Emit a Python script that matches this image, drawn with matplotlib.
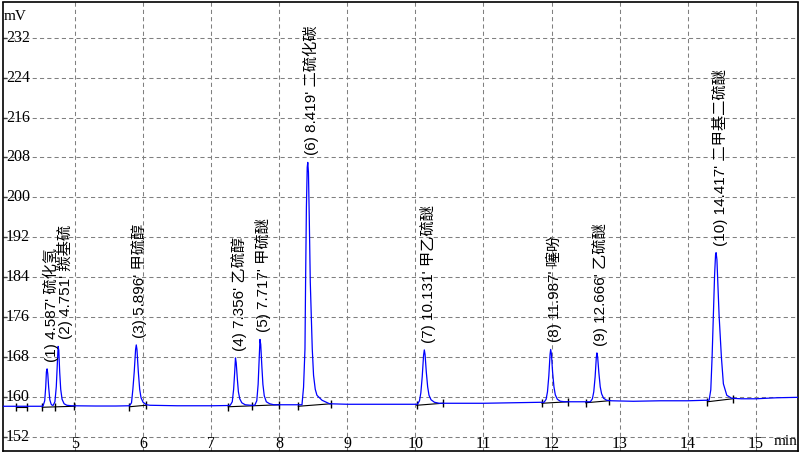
import numpy as np
import matplotlib
matplotlib.use("Agg")
from matplotlib import pyplot as plt

# chromatogram trace (min, mV)
trace_t = [3.93, 4.30, 4.50,
           4.53, 4.555, 4.57, 4.58, 4.59, 4.60, 4.613, 4.63, 4.65, 4.665,
           4.68, 4.705, 4.725, 4.74, 4.752, 4.762, 4.775, 4.79, 4.81, 4.84, 4.88, 4.95,
           5.30, 5.60,
           5.80, 5.83, 5.85, 5.87, 5.89, 5.90, 5.91, 5.93, 5.95, 5.97, 6.00, 6.05, 6.10,
           6.50, 7.00, 7.25,
           7.28, 7.31, 7.33, 7.345, 7.357, 7.368, 7.385, 7.40, 7.42, 7.45, 7.50, 7.58,
           7.64, 7.67, 7.69, 7.705, 7.717, 7.728, 7.745, 7.76, 7.78, 7.81, 7.86, 7.92,
           8.10, 8.25,
           8.334, 8.357, 8.378, 8.387, 8.399, 8.411, 8.419, 8.429, 8.441, 8.456, 8.485,
           8.504, 8.529, 8.554, 8.629, 8.739,
           9.00, 9.50, 10.00,
           10.03, 10.06, 10.08, 10.10, 10.12, 10.131, 10.142, 10.16, 10.18, 10.20, 10.23,
           10.28, 10.35,
           10.60, 11.00, 11.40, 11.85,
           11.89, 11.92, 11.94, 11.96, 11.978, 11.987, 11.998, 12.015, 12.035, 12.055,
           12.085, 12.13, 12.20,
           12.40, 12.55,
           12.57, 12.60, 12.62, 12.64, 12.657, 12.666, 12.677, 12.695, 12.715, 12.735,
           12.765, 12.81, 12.88,
           13.20, 13.60, 14.00, 14.25,
           14.314, 14.339, 14.358, 14.377, 14.395, 14.409, 14.417, 14.429, 14.442, 14.461,
           14.495, 14.524, 14.574, 14.647, 14.787,
           15.00, 15.30, 15.65]
trace_mv = [158.1, 158.1, 158.1,
            158.15, 159.2, 162.0, 165.0, 165.6, 164.6, 161.9, 159.4, 158.5, 158.3,
            158.3, 159.0, 162.0, 166.5, 170.1, 169.3, 165.0, 161.5, 159.5, 158.6, 158.3, 158.2,
            158.15, 158.15,
            158.2, 158.8, 161.5, 165.0, 169.5, 170.4, 169.5, 165.0, 161.5, 159.8, 158.9, 158.4, 158.3,
            158.2, 158.2, 158.25,
            158.3, 159.0, 161.5, 164.8, 167.8, 166.8, 163.5, 161.0, 159.6, 158.8, 158.4, 158.3,
            158.3, 159.2, 162.5, 167.5, 171.5, 170.5, 166.0, 162.5, 160.2, 159.0, 158.6, 158.4,
            158.4, 158.4,
            158.4, 161.9, 169.6, 183.0, 198.0, 206.0, 207.0, 205.0, 196.0, 183.0, 169.6,
            164.3, 161.5, 160.3, 159.3, 158.6,
            158.5, 158.5, 158.5,
            158.5, 159.2, 160.8, 164.0, 168.3, 169.4, 168.5, 165.0, 162.0, 160.3, 159.4,
            158.9, 158.7,
            158.7, 158.7, 158.8, 158.9,
            158.9, 159.5, 161.0, 164.2, 168.5, 169.5, 168.6, 165.0, 162.0, 160.4,
            159.5, 159.1, 159.0,
            159.0, 159.0,
            159.0, 159.6, 161.0, 164.0, 167.8, 168.8, 168.0, 164.8, 162.0, 160.6,
            159.7, 159.3, 159.2,
            159.1, 159.2, 159.2, 159.3,
            159.3, 161.4, 167.9, 176.3, 184.5, 188.5, 188.9, 187.5, 183.0, 176.3,
            167.9, 162.6, 160.3, 159.7, 159.6,
            159.6, 159.8, 159.9]

# integration baselines
seg_t0 = [4.14, 4.52, 5.80, 7.25, 8.28, 10.02, 11.86, 12.50, 14.29]
seg_t1 = [4.29, 4.99, 6.04, 8.00, 8.76, 10.40, 12.24, 12.84, 14.66]
seg_v0 = [157.9, 157.9, 158.0, 158.0, 158.1, 158.3, 158.7, 158.8, 159.0]
seg_v1 = [157.9, 158.1, 158.3, 158.4, 158.6, 158.7, 159.0, 159.2, 159.6]
marks_t = [4.14, 4.29, 4.52, 4.71, 4.99, 5.80, 6.04, 7.25, 7.60, 8.00, 8.28, 8.76,
           10.02, 10.40, 11.86, 12.24, 12.50, 12.84, 14.29, 14.66]
marks_mv = [157.9, 157.9, 157.9, 158.0, 158.1, 158.0, 158.3, 158.0, 158.2, 158.4, 158.1, 158.6,
            158.3, 158.7, 158.7, 159.0, 158.8, 159.2, 159.0, 159.6]

# peaks
peak_no = [1, 2, 3, 4, 5, 6, 7, 8, 9, 10]
peak_rt = ["4.587", "4.751", "5.896", "7.356", "7.717", "8.419", "10.131", "11.987", "12.666", "14.417"]
peak_name = ["硫化氢", "羰基硫", "甲硫醇", "乙硫醇", "甲硫醚", "二硫化碳", "甲乙硫醚", "噻吩", "乙硫醚", "二甲基二硫醚"]
peak_top = [165.6, 170.1, 170.4, 167.8, 171.5, 207.0, 169.4, 169.5, 168.8, 188.9]

x_ticks = [5, 6, 7, 8, 9, 10, 11, 12, 13, 14, 15]
y_ticks = [152, 160, 168, 176, 184, 192, 200, 208, 216, 224, 232]

fig = plt.figure(figsize=(8.01, 4.53), dpi=100)
ax = fig.add_axes([2.5 / 801, 2.5 / 453, 795.5 / 801, 448 / 453])
ax.set_xlim(3.935, 15.62)
ax.set_ylim(149.23, 239.06)

ax.set_xticks(x_ticks)
ax.set_yticks(y_ticks)
ax.set_xticklabels([])
ax.set_yticklabels([])
ax.tick_params(axis='x', length=0)
ax.tick_params(axis='y', direction='in', length=3, width=1, color='#404040')
ax.grid(True, color='#808080', linestyle=(0, (4, 3)), linewidth=0.75)
for s in ax.spines.values():
    s.set_linewidth(1.2)
    s.set_color('black')

# baselines + marks
for t0, t1, v0, v1 in zip(seg_t0, seg_t1, seg_v0, seg_v1):
    ax.plot([t0, t1], [v0, v1], color='black', lw=0.8, zorder=3)
ax.plot(marks_t, marks_mv, linestyle='none', marker='|', markersize=6,
        markeredgewidth=1.0, color='black', zorder=3)

ax.plot(trace_t, trace_mv, color='#0000ff', lw=0.9, zorder=4)

serif = 'Liberation Serif'
for v in y_ticks:
    ax.text(0.0045, v, str(v), transform=ax.get_yaxis_transform(),
            ha='left', va='center', fontsize=11.5, family=serif)
for t in x_ticks:
    ax.text(t, 0.005, str(t), transform=ax.get_xaxis_transform(),
            ha='center', va='baseline', fontsize=11.5, family=serif)
ax.text(0.001, 0.962, "mV", transform=ax.transAxes, ha='left', va='baseline',
        fontsize=11, family=serif)
ax.text(0.999, 0.012, "min", transform=ax.transAxes, ha='right', va='baseline',
        fontsize=11, family=serif)

lab_font = ['Liberation Sans', 'Noto Sans CJK SC', 'DejaVu Sans']
for n, rt, name, top in zip(peak_no, peak_rt, peak_name, peak_top):
    t = float(rt)
    dx = 5 if n == 2 else 2.5   # label 2 is pushed right a bit, as in the original
    ax.annotate("(%d) %s' %s" % (n, rt, name), xy=(t, top), xytext=(dx, 5),
                textcoords='offset points', rotation=90, ha='center', va='bottom',
                fontsize=11, family=lab_font, zorder=5)

fig.savefig("out.png", dpi=100)
